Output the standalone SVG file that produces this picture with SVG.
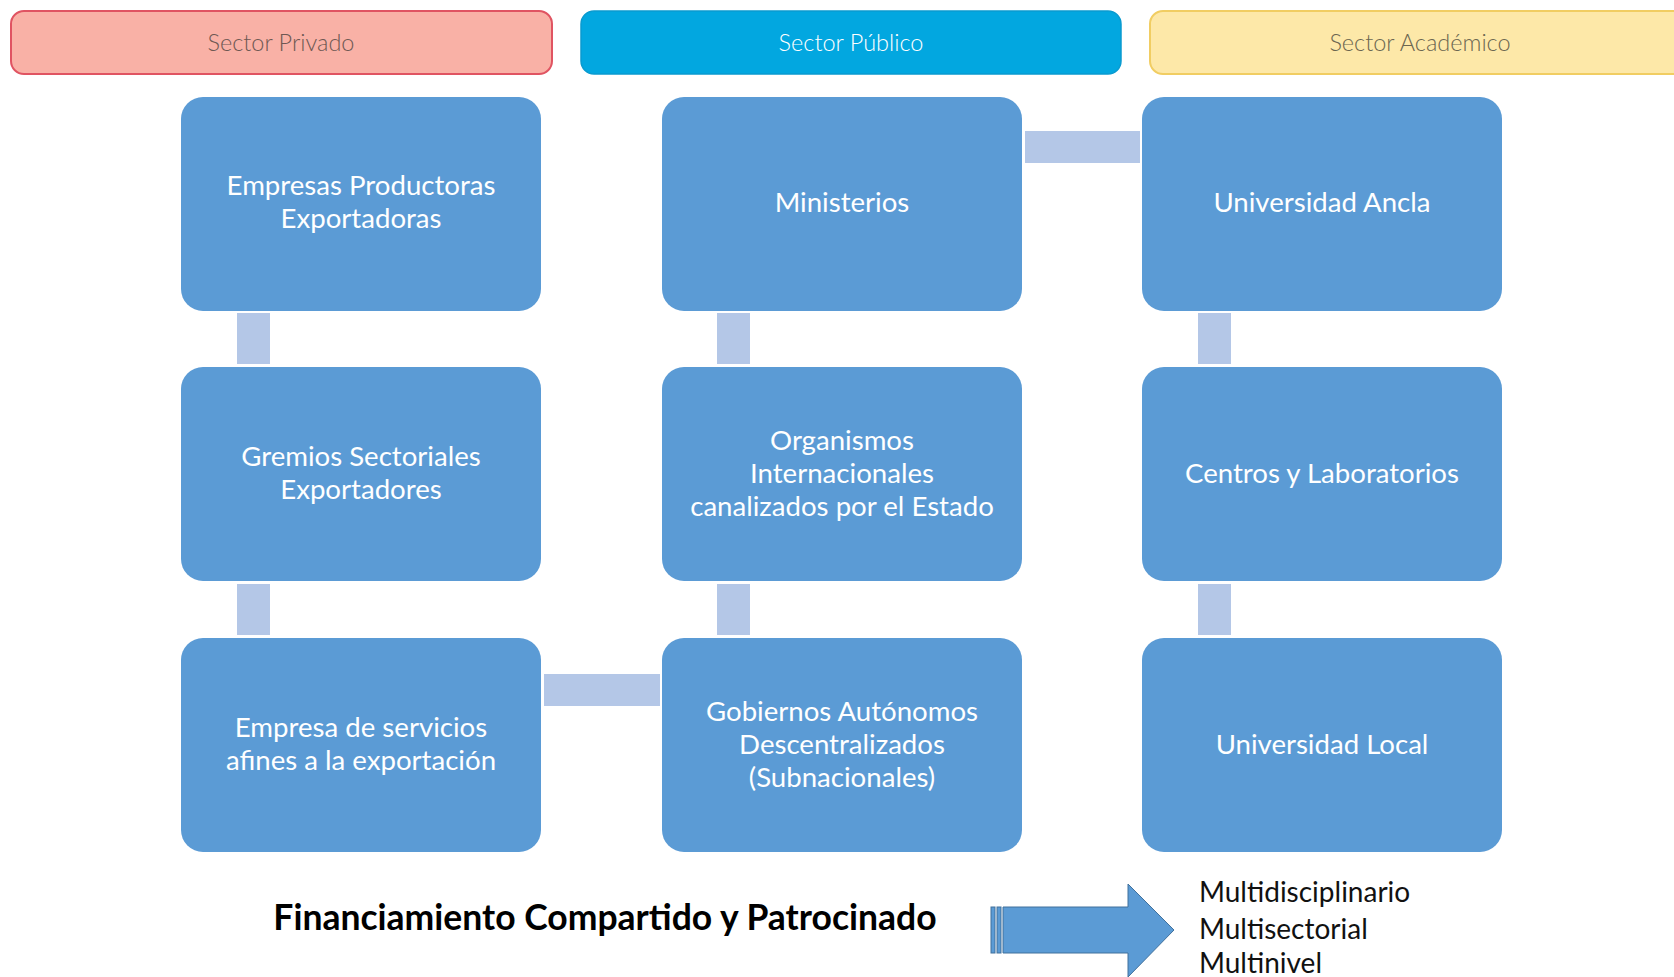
<svg xmlns="http://www.w3.org/2000/svg" width="1674" height="977" viewBox="0 0 1674 977">
<style>
.node rect{fill:#5b9bd5;}
.node text{fill:#ffffff;font-family:Lato,"Liberation Sans",sans-serif;font-size:27.6px;text-anchor:middle;}
.conn{fill:#b4c7e7;}
.hdr text{font-family:Lato,"Liberation Sans",sans-serif;font-weight:300;font-size:23.5px;text-anchor:middle;}
.side{font-family:Lato,"Liberation Sans",sans-serif;font-size:28px;fill:#111111;}
</style>
<rect width="1674" height="977" fill="#ffffff"/>
<g id="hdr-privado" class="hdr">
<rect x="11" y="11" width="541" height="63" rx="13" fill="#f9b1a6" stroke="#e05462" stroke-width="2"/>
<text x="281" y="51" fill="#6e5853">Sector Privado</text>
</g>
<g id="hdr-publico" class="hdr">
<rect x="581" y="11" width="540" height="63" rx="13" fill="#02a7e0" stroke="#0a9bd0" stroke-width="1.5"/>
<text x="851" y="51" fill="#ffffff">Sector Público</text>
</g>
<g id="hdr-academico" class="hdr">
<rect x="1150" y="11" width="560" height="63" rx="13" fill="#fde8a8" stroke="#f1cd62" stroke-width="2"/>
<text x="1420" y="51" fill="#6b6650">Sector Académico</text>
</g>
<g id="connectors">
<rect class="conn" x="237" y="313" width="33" height="51"/>
<rect class="conn" x="237" y="584" width="33" height="51"/>
<rect class="conn" x="717" y="313" width="33" height="51"/>
<rect class="conn" x="717" y="584" width="33" height="51"/>
<rect class="conn" x="1198" y="313" width="33" height="51"/>
<rect class="conn" x="1198" y="584" width="33" height="51"/>
<rect class="conn" x="1025" y="131" width="115" height="32"/>
<rect class="conn" x="544" y="674" width="116" height="32"/>
</g>
<g id="n-empresas" class="node">
<rect x="181" y="97" width="360" height="214" rx="22"/>
<text x="361" y="195">Empresas Productoras</text>
<text x="361" y="228">Exportadoras</text>
</g>
<g id="n-ministerios" class="node">
<rect x="662" y="97" width="360" height="214" rx="22"/>
<text x="842" y="212">Ministerios</text>
</g>
<g id="n-univ-ancla" class="node">
<rect x="1142" y="97" width="360" height="214" rx="22"/>
<text x="1322" y="212">Universidad Ancla</text>
</g>
<g id="n-gremios" class="node">
<rect x="181" y="367" width="360" height="214" rx="22"/>
<text x="361" y="466">Gremios Sectoriales</text>
<text x="361" y="499">Exportadores</text>
</g>
<g id="n-organismos" class="node">
<rect x="662" y="367" width="360" height="214" rx="22"/>
<text x="842" y="450">Organismos</text>
<text x="842" y="483">Internacionales</text>
<text x="842" y="516">canalizados por el Estado</text>
</g>
<g id="n-centros" class="node">
<rect x="1142" y="367" width="360" height="214" rx="22"/>
<text x="1322" y="483">Centros y Laboratorios</text>
</g>
<g id="n-empresa-servicios" class="node">
<rect x="181" y="638" width="360" height="214" rx="22"/>
<text x="361" y="737">Empresa de servicios</text>
<text x="361" y="770">afines a la exportación</text>
</g>
<g id="n-gobiernos" class="node">
<rect x="662" y="638" width="360" height="214" rx="22"/>
<text x="842" y="721">Gobiernos Autónomos</text>
<text x="842" y="754">Descentralizados</text>
<text x="842" y="787">(Subnacionales)</text>
</g>
<g id="n-univ-local" class="node">
<rect x="1142" y="638" width="360" height="214" rx="22"/>
<text x="1322" y="754">Universidad Local</text>
</g>
<g id="footer">
<text x="605" y="930" font-family="Lato,'Liberation Sans',sans-serif" font-weight="bold" font-size="35.5" fill="#000000" text-anchor="middle">Financiamiento Compartido y Patrocinado</text>
<g id="arrow">
<polygon points="1003,907 1128,907 1128,884 1174,930 1128,977 1128,953 1003,953" fill="#5b9bd5" stroke="#41719c" stroke-width="1"/>
<rect x="991" y="907" width="4" height="46" fill="#5b9bd5" stroke="#41719c" stroke-width="1"/>
<rect x="997" y="907" width="4" height="46" fill="#5b9bd5" stroke="#41719c" stroke-width="1"/>
</g>
<text class="side" x="1199" y="902">Multidisciplinario</text>
<text class="side" x="1199" y="939">Multisectorial</text>
<text class="side" x="1199" y="973">Multinivel</text>
</g>
</svg>
